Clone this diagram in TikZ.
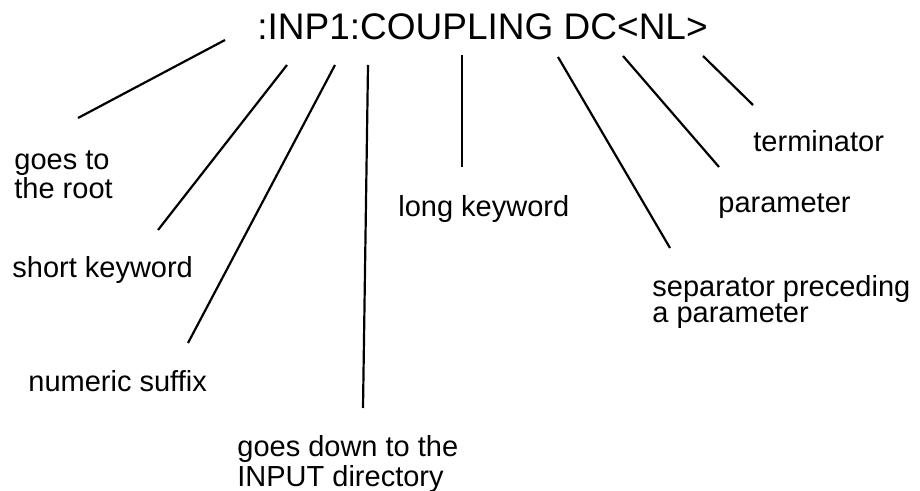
\documentclass[tikz,border=0pt]{standalone}
\usepackage{fontspec}
\setmainfont{Liberation Sans}

\tikzset{
  cmdtext/.style={font=\fontsize{18.5pt}{22pt}\selectfont, inner sep=0pt, anchor=base west},
  lbl/.style={font=\fontsize{14.5pt}{13.4pt}\selectfont, inner sep=0pt, anchor=base west, align=left},
  pointer/.style={line width=1.1pt}
}

\begin{document}
\begin{tikzpicture}[x=0.5pt, y=-0.5pt]
    \useasboundingbox (0,0) rectangle (920,491);
    % the command string
    \node[cmdtext] (cmd) at (257,40) {:INP1:COUPLING DC<NL>};
    % labels below (multi-line ones sit on their last baseline)
    \node[lbl] (root) at (14,199) {goes to\\the root};
    \node[lbl] (short) at (12,278) {short keyword};
    \node[lbl] (suffix) at (28,391) {numeric suffix};
    \node[lbl] (input) at (237,486) {goes down to the\\INPUT directory};
    \node[lbl] (long) at (398,217) {long keyword};
    \node[lbl] (sep) at (652,323) {separator preceding\\a parameter};
    \node[lbl] (param) at (718,213) {parameter};
    \node[lbl] (term) at (753,152) {terminator};
    % pointer ends
    \coordinate (root-a) at (225,40);   \coordinate (root-b) at (78,118);
    \coordinate (short-a) at (287,65);  \coordinate (short-b) at (158,230);
    \coordinate (suffix-a) at (335,65); \coordinate (suffix-b) at (188,343);
    \coordinate (input-a) at (368,65);  \coordinate (input-b) at (363,408);
    \coordinate (long-a) at (462,55);   \coordinate (long-b) at (462,167);
    \coordinate (sep-a) at (558,57);    \coordinate (sep-b) at (670,248);
    \coordinate (param-a) at (623,56);  \coordinate (param-b) at (719,167);
    \coordinate (term-a) at (703,56);   \coordinate (term-b) at (753,105);
    \foreach \p in {root,short,suffix,input,long,sep,param,term}
      \draw[pointer] (\p-a) -- (\p-b);
\end{tikzpicture}
\end{document}
